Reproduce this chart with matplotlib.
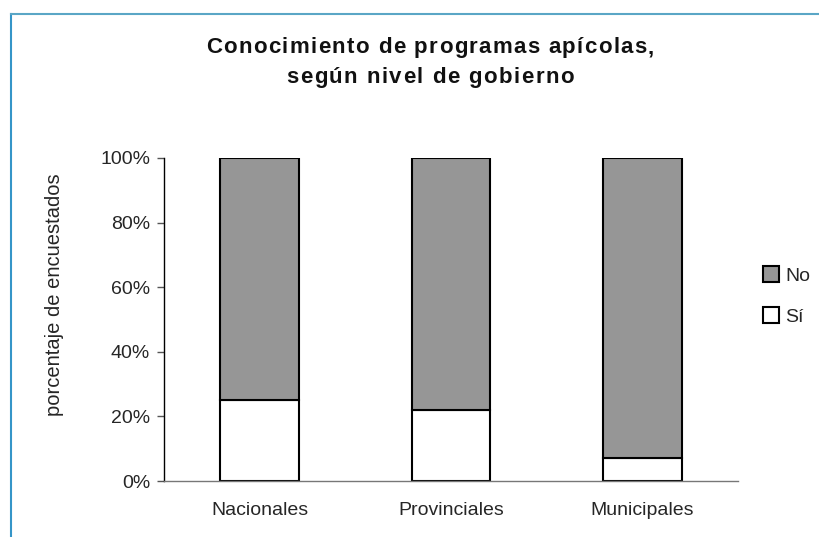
import matplotlib
matplotlib.use("Agg")
import matplotlib.pyplot as plt
from matplotlib.lines import Line2D
from matplotlib.patches import Patch
from matplotlib.ticker import FuncFormatter

categories = ["Nacionales", "Provinciales", "Municipales"]
si_values = [25, 22, 7]
no_values = [75, 78, 93]
yticks = [0, 20, 40, 60, 80, 100]
title_lines = ["Conocimiento de programas apícolas,", "según nivel de gobierno"]

plt.rcParams['font.family'] = ['Liberation Sans', 'DejaVu Sans']

W, H = 820, 537
TXT = "#262626"
FS = 14
fig = plt.figure(figsize=(W / 100, H / 100), dpi=100)
ax = fig.add_axes([164 / W, 1 - 481 / H, (738 - 164) / W, (481 - 158) / H])

x = range(len(categories))
ax.bar(x, si_values, width=0.41, color="white", edgecolor="black", linewidth=1.5, label="Sí", zorder=2)
ax.bar(x, no_values, bottom=si_values, width=0.41, color="#969696", edgecolor="black", linewidth=1.5, label="No", zorder=2)

ax.set_xlim(-0.5, 2.5)
ax.set_ylim(0, 100)
ax.set_yticks(yticks)
ax.yaxis.set_major_formatter(FuncFormatter(lambda v, p: f"{int(v)}%"))
ax.set_xticks(list(x))
ax.set_xticklabels(categories)
ax.tick_params(axis='x', length=0, pad=15, labelsize=FS)
ax.tick_params(axis='y', length=5, width=1, direction='out', pad=5, labelsize=FS, color="#555555")
for lab in ax.get_yticklabels() + ax.get_xticklabels():
    lab.set_color(TXT)
for s in ["top", "right"]:
    ax.spines[s].set_visible(False)
ax.spines["left"].set_color("black")
ax.spines["left"].set_linewidth(1)
ax.spines["bottom"].set_color("#777777")
ax.spines["bottom"].set_linewidth(1)

ax.set_ylabel("porcentaje de encuestados", fontsize=14.5, color=TXT)
ax.yaxis.set_label_coords((64 - 164) / 574, (481 - 295) / 323)

# Title with letter spacing
renderer = fig.canvas.get_renderer()
center_x = 430
baselines = [53, 83]
targets = [448, 288]
tfs = 16

def text_width(s):
    t = fig.text(0, 0, s + "|", fontsize=tfs, fontweight="bold")
    w1 = t.get_window_extent(renderer).width
    t.remove()
    t = fig.text(0, 0, "|", fontsize=tfs, fontweight="bold")
    w2 = t.get_window_extent(renderer).width
    t.remove()
    return w1 - w2

for line, base, target in zip(title_lines, baselines, targets):
    natural = text_width(line)
    n = len(line)
    track = (target - natural) / (n - 1)
    start = center_x - target / 2
    for i, ch in enumerate(line):
        if ch == " ":
            continue
        px = start + text_width(line[:i]) + i * track
        fig.text(px / W, 1 - base / H, ch, ha="left", va="baseline", fontsize=tfs,
                 fontweight="bold", color="#111111")

handles = [Patch(facecolor="#969696", edgecolor="black", linewidth=1.5, label="No"),
           Patch(facecolor="white", edgecolor="black", linewidth=1.5, label="Sí")]
fig.legend(handles=handles, loc="center left", bbox_to_anchor=(753 / W, 1 - 296 / H), frameon=False,
           fontsize=FS, handlelength=0.85, handleheight=0.85, handletextpad=0.3, labelspacing=1.15,
           borderpad=0, labelcolor=TXT)

fig.add_artist(Line2D([11 / W, 11 / W], [0, 1 - 14 / H], transform=fig.transFigure, color="#3595c8", linewidth=1.5))
fig.add_artist(Line2D([11 / W, 1], [1 - 14 / H, 1 - 14 / H], transform=fig.transFigure, color="#5aa6c6", linewidth=1.5))

fig.savefig("out.png", dpi=100)
